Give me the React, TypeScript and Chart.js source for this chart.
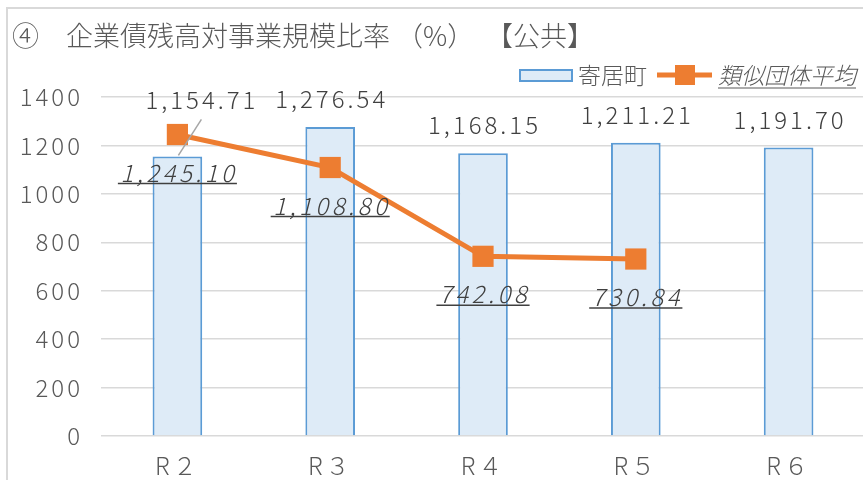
import React, { useEffect, useRef } from "react";
import { Chart, registerables } from "chart.js";

Chart.register(...registerables);

const categories = ["R２", "R３", "R４", "R５", "R６"];
const townValues = [1154.71, 1276.54, 1168.15, 1211.21, 1191.7];
const avgValues: (number | null)[] = [1245.1, 1108.8, 742.08, 730.84, null];
const yTickValues = [0, 200, 400, 600, 800, 1000, 1200, 1400];
const titleText = "④　企業債残高対事業規模比率 （%）  【公共】";
const legendTown = "寄居町";
const legendAvg = "類似団体平均";

const FONT = '"Noto Sans CJK JP", "Noto Sans", sans-serif';
const BAR_FILL = "#deebf7";
const BAR_BORDER = "#5b9bd5";
const ORANGE = "#ed7d31";
const TEXT = "#595959";
const LABEL = "#404040";

const fmt = (v: number) =>
  v.toLocaleString("en-US", { minimumFractionDigits: 2, maximumFractionDigits: 2 });

const decorPlugin = {
  id: "decor",
  beforeDraw(chart: any) {
    const ctx = chart.ctx;
    ctx.letterSpacing = "3px";
  },
  afterDraw(chart: any) {
    const ctx = chart.ctx;
    ctx.save();
    // frame
    ctx.strokeStyle = "#d9d9d9";
    ctx.lineWidth = 2;
    ctx.beginPath();
    ctx.moveTo(7, 480);
    ctx.lineTo(7, 8);
    ctx.lineTo(chart.width, 8);
    ctx.stroke();

    // title
    ctx.letterSpacing = "0px";
    ctx.fillStyle = TEXT;
    ctx.font = `300 27px ${FONT}`;
    ctx.textBaseline = "middle";
    ctx.textAlign = "left";
    ctx.fillText(titleText, 12, 36);

    // legend
    const ly = 75;
    ctx.fillStyle = BAR_FILL;
    ctx.fillRect(520, ly - 5, 52, 11);
    ctx.strokeStyle = BAR_BORDER;
    ctx.lineWidth = 2;
    ctx.strokeRect(520, ly - 5, 52, 11);
    ctx.fillStyle = TEXT;
    ctx.font = `300 23px ${FONT}`;
    ctx.fillText(legendTown, 578, ly);
    ctx.strokeStyle = ORANGE;
    ctx.lineWidth = 5;
    ctx.beginPath();
    ctx.moveTo(657, ly);
    ctx.lineTo(712, ly);
    ctx.stroke();
    ctx.fillStyle = ORANGE;
    ctx.fillRect(675, ly - 10, 20, 20);
    ctx.fillStyle = TEXT;
    ctx.font = `italic 300 23px ${FONT}`;
    ctx.fillText(legendAvg, 718, ly);
    const lw = ctx.measureText(legendAvg).width;
    ctx.strokeStyle = TEXT;
    ctx.lineWidth = 1.2;
    ctx.beginPath();
    ctx.moveTo(718, ly + 13);
    ctx.lineTo(718 + lw, ly + 13);
    ctx.stroke();

    // bar labels
    ctx.letterSpacing = "3px";
    const barMeta = chart.getDatasetMeta(1);
    ctx.font = `300 24px ${FONT}`;
    ctx.textAlign = "center";
    ctx.textBaseline = "middle";
    barMeta.data.forEach((el: any, i: number) => {
      const v = townValues[i];
      let x = el.x;
      let y = el.y - 28;
      if (i === 0) {
        ctx.strokeStyle = "#a6a6a6";
        ctx.lineWidth = 1.5;
        ctx.beginPath();
        ctx.moveTo(el.x + 1, el.y - 1);
        ctx.lineTo(el.x + 24, el.y - 37);
        ctx.stroke();
        x = el.x + 23;
        y = el.y - 57;
      }
      ctx.fillStyle = LABEL;
      ctx.fillText(fmt(v), x + 1.5, y);
    });

    // line labels
    ctx.letterSpacing = "3.5px";
    const lineMeta = chart.getDatasetMeta(0);
    ctx.font = `italic 300 24px ${FONT}`;
    lineMeta.data.forEach((el: any, i: number) => {
      const v = avgValues[i];
      if (v == null) return;
      const s = fmt(v);
      const x = el.x;
      const y = el.y + 38;
      ctx.fillStyle = LABEL;
      ctx.fillText(s, x + 1.5, y);
      const w = ctx.measureText(s).width;
      ctx.strokeStyle = LABEL;
      ctx.lineWidth = 1.5;
      ctx.beginPath();
      ctx.moveTo(x - w / 2 - 1, y + 11);
      ctx.lineTo(x + w / 2 + 1, y + 11);
      ctx.stroke();
    });
    ctx.restore();
    ctx.letterSpacing = "0px";
  },
};

export default function App() {
  const ref = useRef<HTMLCanvasElement | null>(null);
  useEffect(() => {
    if (!ref.current) return;
    const chart = new Chart(ref.current, {
      type: "bar",
      data: {
        labels: categories,
        datasets: [
          {
            type: "line",
            label: legendAvg,
            data: avgValues,
            borderColor: ORANGE,
            backgroundColor: ORANGE,
            borderWidth: 5,
            pointStyle: "rect",
            pointRadius: 15,
            pointBackgroundColor: ORANGE,
            pointBorderColor: ORANGE,
            pointBorderWidth: 0,
            order: 0,
          } as any,
          {
            type: "bar",
            label: legendTown,
            data: townValues,
            backgroundColor: BAR_FILL,
            borderColor: BAR_BORDER,
            borderWidth: { top: 2, left: 2, right: 2, bottom: 0 },
            categoryPercentage: 1,
            barPercentage: 0.325,
            order: 1,
          } as any,
        ],
      },
      options: {
        animation: false,
        responsive: false,
        maintainAspectRatio: false,
        devicePixelRatio: 1,
        layout: { padding: { top: 97, right: 9, bottom: 0, left: 0 } },
        plugins: {
          legend: { display: false },
          title: { display: false },
          tooltip: { enabled: false },
        },
        scales: {
          x: {
            grid: { display: false, drawTicks: false },
            border: { display: false },
            ticks: {
              color: TEXT,
              font: { family: FONT, size: 24, weight: "300" },
              padding: 15,
              maxRotation: 0,
            },
            afterFit(scale: any) {
              scale.height = 44;
            },
          },
          y: {
            min: 0,
            max: 1400,
            grid: { color: "#d9d9d9", lineWidth: 1.5, drawTicks: false },
            border: { display: false },
            afterBuildTicks(scale: any) {
              scale.ticks = yTickValues.map((v) => ({ value: v }));
            },
            ticks: {
              color: TEXT,
              font: { family: FONT, size: 24, weight: "300" },
              padding: 18,
              callback: (v: any) => String(v),
            },
            afterFit(scale: any) {
              scale.width = 101;
            },
          },
        },
      },
      plugins: [decorPlugin],
    });
    return () => chart.destroy();
  }, []);
  return (
    <div style={{ position: "fixed", left: 0, top: 0, width: 880, height: 480, background: "#fff" }}>
      <canvas ref={ref} width={880} height={480} style={{ width: 880, height: 480, display: "block" }} />
    </div>
  );
}
